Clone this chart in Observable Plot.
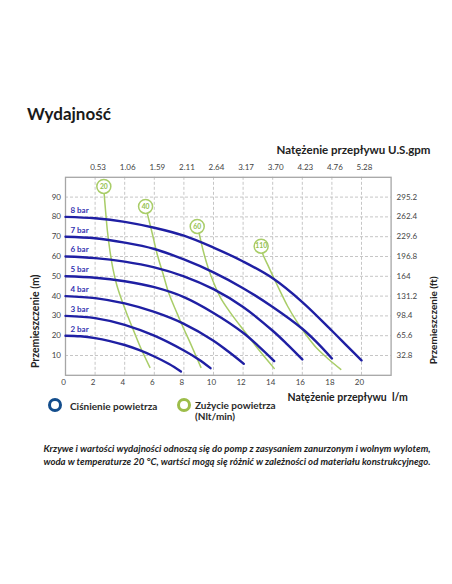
<!DOCTYPE html>
<html>
<head>
<meta charset="utf-8">
<script src="https://cdn.jsdelivr.net/npm/d3@7"></script>
<script src="https://cdn.jsdelivr.net/npm/@observablehq/plot@0.6"></script>
<style>
  html, body { margin: 0; padding: 0; background: #fff; }
  #wrap { position: relative; width: 452px; height: 584px; overflow: hidden; background: #fff; font-family: Lato, "Open Sans", sans-serif; color: #222; }
  #title { position: absolute; left: 27px; top: 103px; font-size: 17px; font-weight: 700; line-height: 22px; color: #1a1a1a; }
  #chart { position: absolute; left: 0; top: 130px; }
  .ring { position: absolute; width: 8px; height: 8px; border-radius: 50%; box-sizing: content-box; }
  .leg { position: absolute; font-size: 10px; font-weight: 700; line-height: 12px; color: #2a2a2a; white-space: nowrap; }
  .cap { position: absolute; left: 20px; width: 434px; text-align: center; font-size: 9.6px; font-style: italic; font-weight: 700; line-height: 12px; color: #222; white-space: nowrap; }
</style>
</head>
<body>
<div id="wrap">
  <div id="title">Wydajność</div>
  <div id="chart"></div>
  <div class="ring" style="left:48px; top:398px; border:3.6px solid #134d8c;"></div>
  <div class="leg" style="left:70px; top:399.5px;">Ciśnienie powietrza</div>
  <div class="ring" style="left:177px; top:398px; border:3.6px solid #9dbd4a;"></div>
  <div class="leg" style="left:195px; top:399px;">Zużycie powietrza</div>
  <div class="leg" style="left:195px; top:410px;">(Nlt/min)</div>
  <div class="cap" style="top:443px;">Krzywe i wartości wydajności odnoszą się do pomp z zasysaniem zanurzonym i wolnym wylotem,</div>
  <div class="cap" style="top:455.5px;">woda w temperaturze 20 °C, wartści mogą się różnić w zależności od materiału konstrukcyjnego.</div>
</div>
<script>
// ---- tick labels ----
const xTicks = [0, 2, 4, 6, 8, 10, 12, 14, 16, 18, 20];
const gpmTicks = [2, 4, 6, 8, 10, 12, 14, 16, 18, 20];
const gpmLabels = ["0.53", "1.06", "1.59", "2.11", "2.64", "3.17", "3.70", "4.23", "4.76", "5.28"];
const yTicks = [10, 20, 30, 40, 50, 60, 70, 80, 90];
const ftLabels = ["32.8", "65.6", "98.4", "131.2", "164", "196.8", "229.6", "262.4", "295.2"];

// ---- pressure curves (flow l/min, head m) ----
const barLabels = ["8 bar", "7 bar", "6 bar", "5 bar", "4 bar", "3 bar", "2 bar"];
const flow8 = [0, 2, 4, 6, 8, 10, 12, 14, 16, 18, 19, 20];
const head8 = [80, 79.3, 77.5, 74.5, 70.5, 64.5, 57.5, 49, 37, 22.5, 15, 7.5];
const flow7 = [0, 2, 4, 6, 8, 10, 12, 14, 16, 17, 18];
const head7 = [70, 69.2, 67, 63.8, 58.5, 52, 44, 34.5, 23.5, 16.5, 8.5];
const flow6 = [0, 2, 4, 6, 8, 10, 12, 14, 15, 16];
const head6 = [60, 59.2, 57.4, 54.5, 50, 43.5, 34.5, 22.5, 15.5, 8];
const flow5 = [0, 2, 4, 6, 8, 10, 12, 13, 14.1];
const head5 = [50, 49.3, 47.5, 44.5, 39.5, 31.5, 21.5, 15, 7.2];
const flow4 = [0, 2, 4, 6, 8, 10, 11, 12.05];
const head4 = [40, 39, 36.3, 32, 26, 17.5, 12, 5.8];
const flow3 = [0, 2, 4, 6, 8, 9, 9.8];
const head3 = [30, 28.9, 25.5, 20, 12.5, 8, 3.6];
const flow2 = [0, 1, 2, 3, 4, 5, 6, 7, 7.8];
const head2 = [20, 19.7, 18.8, 17.3, 15.3, 12.7, 9.5, 5.7, 1.9];

// ---- air consumption curves (Nlt/min); first point = label circle ----
const airLabels = ["20", "40", "60", "110"];
const air20x = [2.59, 2.62, 2.72, 2.83, 3.0, 3.2, 3.45, 3.75, 4.15, 4.6, 5.1, 5.7];
const air20y = [95.4, 91, 82, 73, 63, 54, 46, 39, 31, 22.6, 13.5, 4];
const air40x = [5.41, 5.55, 5.85, 6.2, 6.6, 7.0, 7.5, 7.9, 8.45, 9.15];
const air40y = [85.3, 81, 72, 61, 51, 41, 32, 25, 16, 4];
const air60x = [8.9, 9.05, 9.3, 9.65, 10.0, 10.45, 11.15, 12.05, 13.1, 14.1];
const air60y = [75.2, 71, 63, 54, 47, 39.5, 31.5, 22.6, 12.5, 3.5];
const air110x = [13.22, 13.32, 13.65, 14.05, 14.5, 15.0, 15.6, 16.25, 17.0, 17.8, 18.6];
const air110y = [65.2, 61.5, 56, 49.5, 42.5, 35, 27.5, 20.5, 13.5, 8, 3];

const pressureSets = [[flow8, head8], [flow7, head7], [flow6, head6], [flow5, head5], [flow4, head4], [flow3, head3], [flow2, head2]];
const pressure = pressureSets.flatMap(([q, h], k) => q.map((v, i) => ({label: barLabels[k], x: v, y: h[i], first: i === 0})));
const airSets = [[air20x, air20y], [air40x, air40y], [air60x, air60y], [air110x, air110y]];
const air = airSets.flatMap(([q, h], k) => q.map((v, i) => ({label: airLabels[k], x: v, y: h[i], first: i === 0})));

const blue = "#1f1fa3";
const blueText = "#3232b0";
const green = "#a9cd68";
const greenText = "#93c04c";

const chart = Plot.plot({
  width: 452,
  height: 280,
  marginLeft: 65,
  marginRight: 61.4,
  marginTop: 46.8,
  marginBottom: 35.2,
  x: {domain: [0, 22]},
  y: {domain: [0, 100]},
  style: {fontFamily: "Lato, 'Open Sans', sans-serif", background: "white", overflow: "visible"},
  marks: [
    Plot.gridX(gpmTicks, {stroke: "#c6c6c6", strokeOpacity: 1, strokeDasharray: "3,2"}),
    Plot.gridY(yTicks, {stroke: "#c6c6c6", strokeOpacity: 1, strokeDasharray: "3,2"}),
    Plot.frame({stroke: "#a6a6a6", strokeWidth: 1.3}),
    Plot.axisX({anchor: "bottom", ticks: xTicks, tickSize: 0, tickPadding: 4.5, fontSize: 8, color: "#444", label: null, dx: -2}),
    Plot.axisX({anchor: "top", ticks: gpmTicks, tickFormat: d => gpmLabels[gpmTicks.indexOf(d)], tickSize: 0, tickPadding: 7, fontSize: 8, color: "#444", label: null, dx: 3}),
    Plot.axisY({anchor: "left", ticks: yTicks, tickSize: 0, tickPadding: 4.5, fontSize: 8, color: "#444", label: null}),
    Plot.axisY({anchor: "right", ticks: yTicks, tickFormat: d => ftLabels[yTicks.indexOf(d)], tickSize: 0, tickPadding: 5.5, fontSize: 8, color: "#444", label: null}),
    Plot.line(air, {x: "x", y: "y", z: "label", stroke: green, strokeWidth: 1.5, curve: "catmull-rom"}),
    Plot.line(pressure, {x: "x", y: "y", z: "label", stroke: blue, strokeWidth: 2.4, curve: "catmull-rom"}),
    Plot.text(pressure.filter(d => d.first), {x: "x", y: "y", text: "label", dx: 5, dy: -6.6, textAnchor: "start", fill: blueText, fontSize: 8, fontWeight: "bold"}),
    Plot.dot(air.filter(d => d.first), {x: "x", y: "y", r: 7, fill: "white", stroke: green, strokeWidth: 1.5}),
    Plot.text(air.filter(d => d.first), {x: "x", y: "y", text: "label", fill: greenText, fontSize: 6.8, fontWeight: "bold"}),
    Plot.text(["Natężenie przepływu U.S.gpm"], {text: d => d, frameAnchor: "top-left", dx: 211, dy: -26.8, textAnchor: "start", lineAnchor: "middle", fontSize: 11.5, fontWeight: "bold", fill: "#222"}),
    Plot.text(["Natężenie przepływu  l/m"], {text: d => d, frameAnchor: "bottom-left", dx: 222, dy: 22.2, textAnchor: "start", lineAnchor: "middle", fontSize: 10.5, fontWeight: "bold", fill: "#222"}),
    Plot.text(["Przemieszczenie (m)"], {text: d => d, frameAnchor: "left", dx: -30, dy: 45, rotate: -90, textAnchor: "middle", lineAnchor: "middle", fontSize: 10.5, fontWeight: "bold", fill: "#222"}),
    Plot.text(["Przemieszczenie (ft)"], {text: d => d, frameAnchor: "right", dx: 42.4, dy: 44, rotate: -90, textAnchor: "middle", lineAnchor: "middle", fontSize: 10, fontWeight: "bold", fill: "#222"})
  ]
});
document.getElementById("chart").appendChild(chart);
</script>
</body>
</html>
